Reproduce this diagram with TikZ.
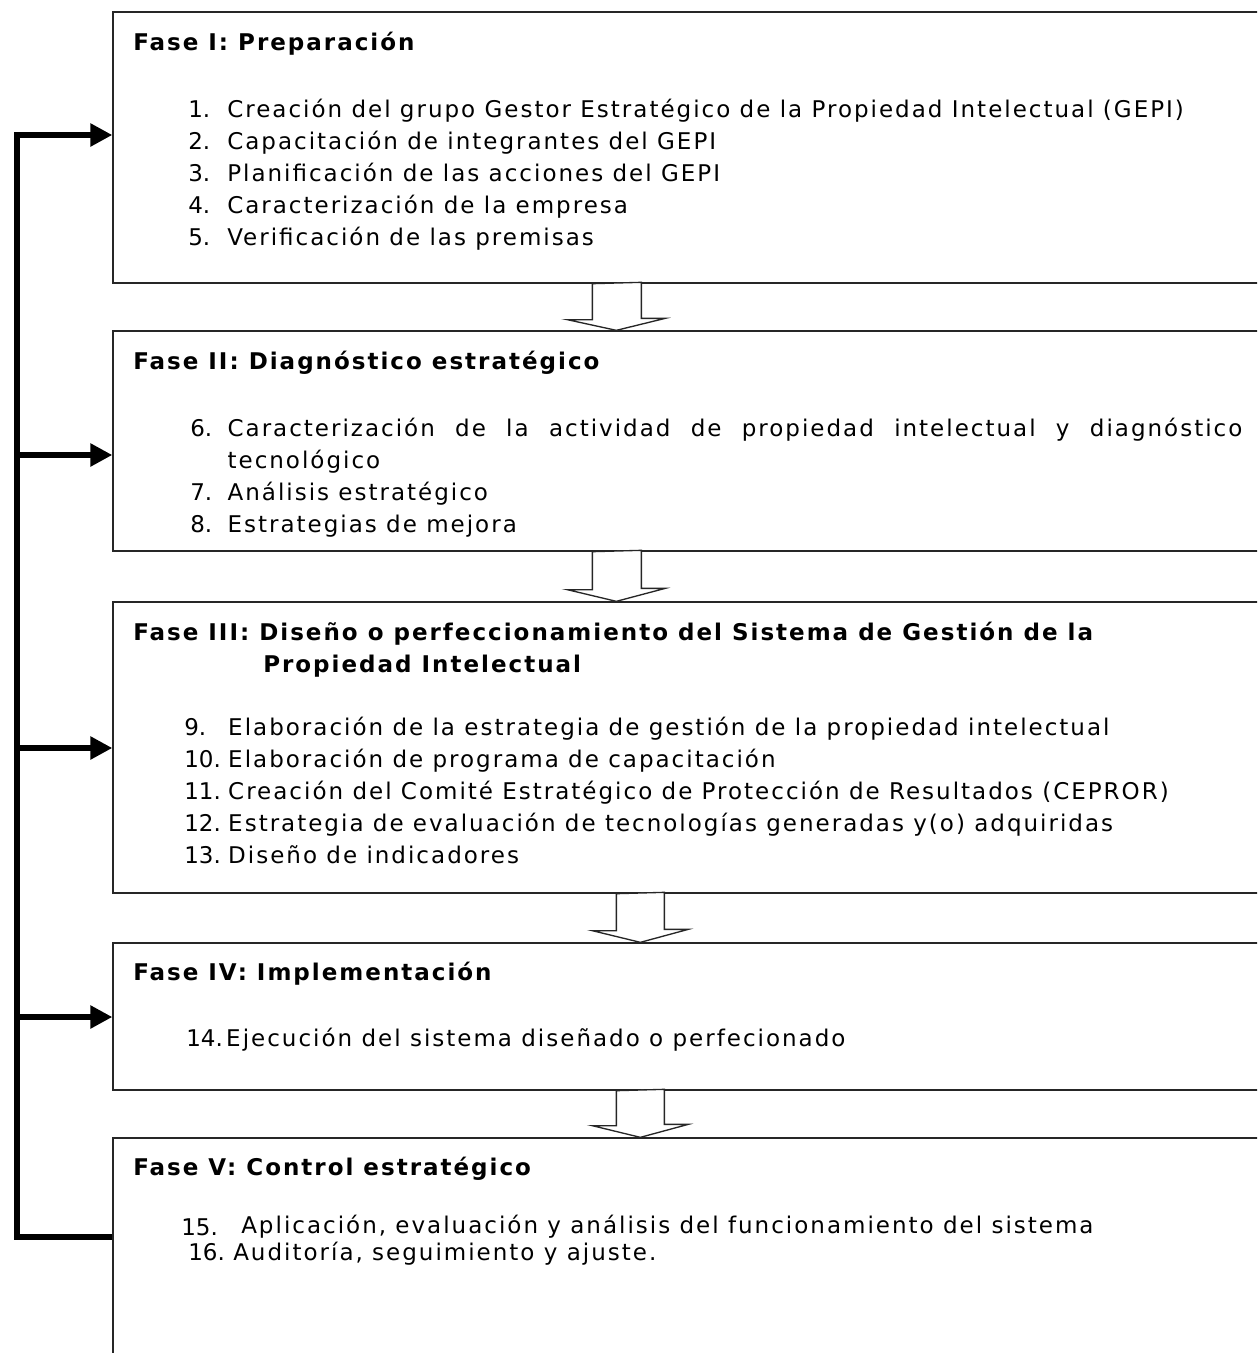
\documentclass[tikz,border=0pt]{standalone}
\usepackage{fontspec}
\setmainfont{DejaVu Sans}[LetterSpace=8.7]
\newfontfamily\numfont{DejaVu Sans}
\usepackage{array}
\usepackage{tikz}
\usetikzlibrary{arrows.meta,positioning,calc,fit}

\begin{document}
\begin{tikzpicture}[x=0.75pt, y=-0.75pt,
    phase/.style={draw=black!85, line width=1pt, inner sep=0pt},
    title/.style={anchor=base west, inner sep=0pt, align=left, font=\fontsize{17.25pt}{24pt}\selectfont\bfseries},
    items/.style={anchor=base west, inner sep=0pt, font=\fontsize{17.25pt}{24pt}\selectfont},
    num/.style={items, font=\fontsize{17.25pt}{24pt}\numfont},
    line/.style={draw, line width=4.5pt, -{Triangle[length=16.5pt, width=16.5pt]}},
    hollow/.style={draw=black!85, fill=white, line width=1pt}]
    \useasboundingbox (0,0) rectangle (1257,1353);
    \clip (0,0) rectangle (1257,1353);

    % Row 1: Preparacion
    \node [phase, fit={(113,12) (1265,283)}] (fase1) {};
    \node [title] (fase1_title) at (133,50) {Fase I: Preparación};
    \node [items] (fase1_list) at (188,117) {\begin{tabular}[t]{@{}>{\numfont}p{29.25pt}@{}l@{}}
        1. & Creación del grupo Gestor Estratégico de la Propiedad Intelectual (GEPI)\\
        2. & Capacitación de integrantes del GEPI\\
        3. & Planificación de las acciones del GEPI\\
        4. & Caracterización de la empresa\\
        5. & Verificación de las premisas
    \end{tabular}};

    % Row 2: Diagnostico
    \node [phase, fit={(113,331) (1265,551)}] (fase2) {};
    \node [title] (fase2_title) at (133,369) {Fase II: Diagnóstico estratégico};
    \node [items] (fase2_list) at (190,436) {\hyphenpenalty=10000 \tolerance=10000
      \begin{tabular}[t]{@{}>{\numfont}p{28pt}@{}p{761pt}@{}}
        6. & Caracterización de la actividad de propiedad intelectual y diagnóstico tecnológico\\
        7. & Análisis estratégico\\
        8. & Estrategias de mejora
    \end{tabular}};

    % Row 3: Diseno
    \node [phase, fit={(113,602) (1265,893)}] (fase3) {};
    \node [title] (fase3_title) at (133,672) {Fase III: Diseño o perfeccionamiento del Sistema de Gestión de la\\
        \hspace*{97.5pt}Propiedad Intelectual};
    \node [items] (fase3_list) at (184,735) {\begin{tabular}[t]{@{}>{\numfont}p{33pt}@{}l@{}}
        9. & Elaboración de la estrategia de gestión de la propiedad intelectual\\
        10. & Elaboración de programa de capacitación\\
        11. & Creación del Comité Estratégico de Protección de Resultados (CEPROR)\\
        12. & Estrategia de evaluación de tecnologías generadas y(o) adquiridas\\
        13. & Diseño de indicadores
    \end{tabular}};

    % Row 4: Implementacion
    \node [phase, fit={(113,943) (1265,1090)}] (fase4) {};
    \node [title] (fase4_title) at (133,980) {Fase IV: Implementación};
    \node [items] (fase4_list) at (186,1046) {\begin{tabular}[t]{@{}>{\numfont}p{30pt}@{}l@{}}
        14. & Ejecución del sistema diseñado o perfecionado
    \end{tabular}};

    % Row 5: Control
    \node [phase, fit={(113,1138) (1265,1365)}] (fase5) {};
    \node [title] (fase5_title) at (133,1175) {Fase V: Control estratégico};
    \node [num] (fase5_num15) at (181,1235) {15.};
    \node [items] (fase5_item15) at (241,1233) {Aplicación, evaluación y análisis del funcionamiento del sistema};
    \node [num] (fase5_num16) at (188,1260) {16.};
    \node [items] (fase5_item16) at (233,1260) {Auditoría, seguimiento y ajuste.};

    % Hollow arrows between phases
    \draw [hollow] ($(fase1.south west)+(480,0)$) -- ++(0,36) -- ++(-25,0) -- ($(fase2.north west)+(504,0)$)
        -- ++(49,-12) -- ++(-24,0) -- ++(0,-36) -- cycle;
    \draw [hollow] ($(fase2.south west)+(480,0)$) -- ++(0,38) -- ++(-25,0) -- ($(fase3.north west)+(504,0)$)
        -- ++(49,-13) -- ++(-24,0) -- ++(0,-38) -- cycle;
    \draw [hollow] ($(fase3.south west)+(504,0)$) -- ++(0,37) -- ++(-24,0) -- ($(fase4.north west)+(528,0)$)
        -- ++(48,-13) -- ++(-24,0) -- ++(0,-37) -- cycle;
    \draw [hollow] ($(fase4.south west)+(504,0)$) -- ++(0,35) -- ++(-24,0) -- ($(fase5.north west)+(528,0)$)
        -- ++(48,-13) -- ++(-24,0) -- ++(0,-35) -- cycle;

    % Feedback line
    \coordinate (fb1) at (16.5,135);
    \coordinate (fb2) at (16.5,455);
    \coordinate (fb3) at (16.5,748);
    \coordinate (fb4) at (16.5,1017);
    \coordinate (fb5) at (16.5,1237);
    \draw [line] (fb5 -| fase5.west) -- (fb5) -- (fb1) -- (fb1 -| fase1.west);
    \draw [line] (fb2) -- (fb2 -| fase2.west);
    \draw [line] (fb3) -- (fb3 -| fase3.west);
    \draw [line] (fb4) -- (fb4 -| fase4.west);
\end{tikzpicture}
\end{document}
